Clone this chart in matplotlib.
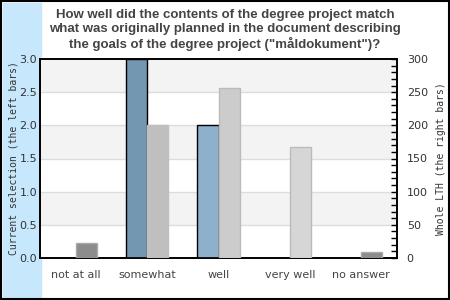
import matplotlib.pyplot as plt
import numpy as np
from matplotlib.patches import Rectangle

categories = ["not at all", "somewhat", "well", "very well", "no answer"]
current = [0, 3, 2, 0, 0]          # left bars, left axis
whole_lth = [22, 200, 256, 167, 9]  # right bars, right axis

left_colors = ['#7396b1', '#7396b1', '#8fb0cb', '#8fb0cb', '#8fb0cb']
right_colors = ['#8c8c8c', '#bfbfbf', '#cccccc', '#d6d6d6', '#8c8c8c']
right_edges = ['#aaaaaa', '#bfbfbf', '#bbbbbb', '#bbbbbb', '#aaaaaa']

title = ('How well did the contents of the degree project match\n'
         'what was originally planned in the document describing\n'
         'the goals of the degree project ("måldokument")?')

fig = plt.figure(figsize=(4.5, 3), dpi=100)
fig.patches.append(Rectangle((0.007, 0.01), 0.083, 0.98, transform=fig.transFigure,
                             color='#c6e7fc', zorder=-1))
fig.patches.append(Rectangle((0.002, 0.003), 0.996, 0.994, transform=fig.transFigure,
                             fill=False, edgecolor='black', lw=1.5, zorder=5))

ax = fig.add_axes([40 / 450, 42 / 300, 357 / 450, 199 / 300])
ax.set_xlim(0, 5)
ax.set_ylim(0, 3)
ax.set_facecolor('white')

# alternating bands and grid lines
for i in range(6):
    if i % 2 == 1:
        ax.axhspan(i * 0.5, (i + 1) * 0.5, color='#f3f3f3', zorder=0, lw=0)
for y in np.arange(0.5, 3.0, 0.5):
    ax.axhline(y, color='#dddddd', lw=1, zorder=0.5)

x = np.arange(len(categories)) + 0.5
w = 0.295
ax2 = ax.twinx()
ax2.set_ylim(0, 300)

for i in range(len(categories)):
    if current[i] > 0:
        ax.bar(x[i] - w / 2, current[i], width=w, color=left_colors[i],
               edgecolor='black', lw=1, zorder=3)
    ax2.bar(x[i] + w / 2, whole_lth[i], width=w, color=right_colors[i],
            edgecolor=right_edges[i], lw=1, zorder=3)

ax.set_xticks(x)
ax.set_xticklabels(categories, color='#444444', fontsize=8)
ax.tick_params(axis='x', length=0, pad=9)
ax.set_yticks(np.arange(0, 3.01, 0.5))
ax.set_yticklabels(['%.1f' % v for v in np.arange(0, 3.01, 0.5)], color='#333333', fontsize=8)
ax.tick_params(axis='y', length=0, pad=2)

ax2.set_yticks(np.arange(0, 301, 50))
ax2.set_yticks(np.arange(0, 301, 10), minor=True)
ax2.tick_params(axis='y', which='both', direction='in', length=4, width=1,
                labelsize=8, labelcolor='#333333', pad=7)

for a in (ax, ax2):
    for s in a.spines.values():
        s.set_linewidth(1.2)

ax.set_ylabel('Current selection (the left bars)', family='DejaVu Sans Mono',
              fontsize=7, color='#333333', labelpad=1)
ax2.set_ylabel('Whole LTH (the right bars)', family='DejaVu Sans Mono',
               fontsize=7, color='#333333', labelpad=6)

fig.text(0.5, 1 - 51 / 300, title, ha='center', va='bottom', fontsize=9.5,
         fontweight='bold', family='Liberation Sans', color='#444444',
         linespacing=1.2)

fig.savefig('out.png', dpi=100)
